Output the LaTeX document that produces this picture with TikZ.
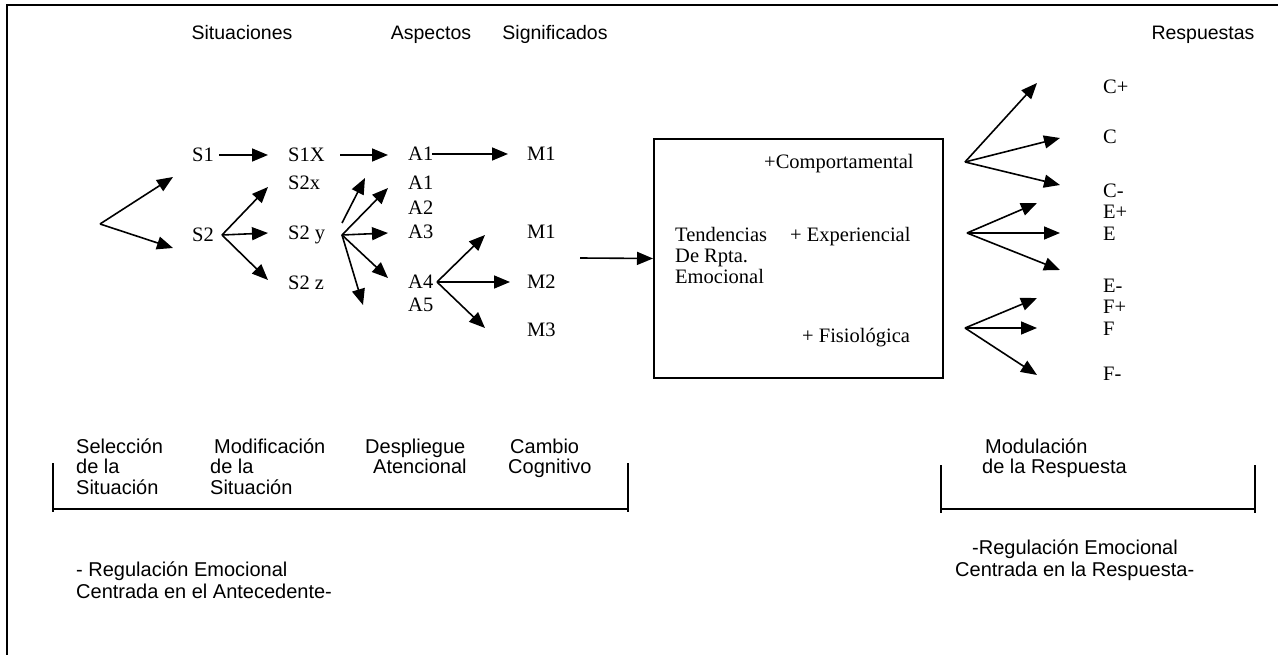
\documentclass[tikz,border=0pt]{standalone}
\usepackage{fontspec}
\setmainfont{Liberation Serif}
\setsansfont{Liberation Sans}
\usetikzlibrary{arrows.meta}
\newcommand{\mlines}[1]{\begin{tabular}[t]{@{}l@{}}#1\end{tabular}}
\begin{document}
\begin{tikzpicture}[x=1pt,y=-1pt,
  ser/.style={anchor=base west,inner sep=0pt,font=\fontsize{20.5pt}{21pt}\selectfont,yshift=-7pt},
  sans/.style={anchor=base west,inner sep=0pt,font=\sffamily\fontsize{20pt}{20.5pt}\selectfont,yshift=-7pt},
  head/.style={anchor=base,inner sep=0pt,font=\sffamily\fontsize{19.5pt}{20pt}\selectfont,yshift=-7pt},
  capt/.style={anchor=base west,inner sep=0pt,font=\sffamily\fontsize{20pt}{22pt}\selectfont,yshift=-7pt},
  arr/.style={-{Triangle[length=16pt,width=13pt]},line width=1.6pt},
  frm/.style={line width=2.2pt},
]
\useasboundingbox (0,0) rectangle (1278,655);
% outer frame
\coordinate (fbl) at (7,655);
\coordinate (ftl) at (7,5);
\coordinate (ftr) at (1278,5);
\draw[frm] (fbl) -- (ftl) -- (ftr);

% headers
\node[head] (hsit) at (242,33) {Situaciones};
\node[head] (hasp) at (431,33) {Aspectos};
\node[head] (hsig) at (555,33) {Significados};
\node[head] (hres) at (1203,33) {Respuestas};

% labels
\node[ser] (s1) at (192,155) {S1};
\node[ser] (s1x) at (288,155) {S1X};
\node[ser] (s2x) at (288,183) {S2x};
\node[ser] (s2) at (192,235) {S2};
\node[ser] (s2y) at (288,233) {S2 y};
\node[ser] (s2z) at (288,283) {S2 z};
\node[ser] (a1a) at (408,154) {A1};
\node[ser] (a1b) at (408,183) {A1};
\node[ser] (a2) at (408,208) {A2};
\node[ser] (a3) at (408,232) {A3};
\node[ser] (a4) at (408,282) {A4};
\node[ser] (a5) at (408,305) {A5};
\node[ser] (m1a) at (527,154) {M1};
\node[ser] (m1b) at (527,232) {M1};
\node[ser] (m2) at (527,282) {M2};
\node[ser] (m3) at (527,330) {M3};

% box
\node[draw,line width=2pt,minimum width=289pt,minimum height=239pt,anchor=north west,inner sep=0pt] (box) at (653,138) {};
\node[ser] (bcomp) at (764,162) {+Comportamental};
\node[ser] (bten) at (675,235) {\mlines{Tendencias\\De Rpta.\\Emocional}};
\node[ser] (bexp) at (790,235) {+ Experiencial};
\node[ser] (bfis) at (802,335) {+ Fisiológica};

% responses
\node[ser] (rcp) at (1103,87) {C+};
\node[ser] (rc) at (1103,137) {C};
\node[ser] (rcm) at (1103,191) {C-};
\node[ser] (rep) at (1103,212) {E+};
\node[ser] (re) at (1103,234) {E};
\node[ser] (rem) at (1103,286) {E-};
\node[ser] (rfp) at (1103,307) {F+};
\node[ser] (rf) at (1103,328) {F};
\node[ser] (rfm) at (1103,373) {F-};

% coordinates for connectors
\coordinate (f0) at (100,224);
\coordinate (t1) at (173,177);
\coordinate (t2) at (173,248);
\coordinate (c3) at (219,155);
\coordinate (t3) at (268,155);
\coordinate (c4) at (340,155);
\coordinate (t4) at (388,155);
\coordinate (fs2) at (222,235);
\coordinate (t5) at (268,187);
\coordinate (t6) at (268,233);
\coordinate (t7) at (268,280);
\coordinate (fsy) at (342,235);
\coordinate (fsyb) at (342,223);
\coordinate (t8) at (365,178);
\coordinate (t9) at (388,188);
\coordinate (t10) at (388,233);
\coordinate (t11) at (388,278);
\coordinate (t12) at (363,305);
\coordinate (c13) at (432,154);
\coordinate (t13) at (508,154);
\coordinate (fa4) at (437,282);
\coordinate (t14) at (485,235);
\coordinate (t15) at (510,282);
\coordinate (t16) at (485,328);
\coordinate (c17) at (580,258);
\coordinate (fc) at (965,162);
\coordinate (t18) at (1037,83);
\coordinate (t19) at (1060,138);
\coordinate (t20) at (1060,185);
\coordinate (fe) at (967,233);
\coordinate (t21) at (1037,203);
\coordinate (t22) at (1060,233);
\coordinate (t23) at (1060,270);
\coordinate (ff) at (965,328);
\coordinate (t24) at (1037,298);
\coordinate (t25) at (1037,328);
\coordinate (t26) at (1037,375);

\draw[arr] (f0) -- (t1);
\draw[arr] (f0) -- (t2);
\draw[arr] (c3) -- (t3);
\draw[arr] (c4) -- (t4);
\draw[arr] (fs2) -- (t5);
\draw[arr] (fs2) -- (t6);
\draw[arr] (fs2) -- (t7);
\draw[arr] (fsyb) -- (t8);
\draw[arr] (fsy) -- (t9);
\draw[arr] (fsy) -- (t10);
\draw[arr] (fsy) -- (t11);
\draw[arr] (fsy) -- (t12);
\draw[arr] (c13) -- (t13);
\draw[arr] (fa4) -- (t14);
\draw[arr] (fa4) -- (t15);
\draw[arr] (fa4) -- (t16);
\draw[arr] (c17) -- (box.west);
\draw[arr] (fc) -- (t18);
\draw[arr] (fc) -- (t19);
\draw[arr] (fc) -- (t20);
\draw[arr] (fe) -- (t21);
\draw[arr] (fe) -- (t22);
\draw[arr] (fe) -- (t23);
\draw[arr] (ff) -- (t24);
\draw[arr] (ff) -- (t25);
\draw[arr] (ff) -- (t26);

% bottom process labels
\node[sans] (psel) at (76,446) {\mlines{Selección\\de la\\Situación}};
\node[sans] (pmod) at (210,446) {\mlines{\hspace{4pt}Modificación\\de la\\Situación}};
\node[sans] (pdes) at (365,446) {\mlines{Despliegue\\\hspace{8pt}Atencional}};
\node[sans] (pcam) at (508,446) {\mlines{\hspace{2pt}Cambio\\Cognitivo}};
\node[sans] (pmodr) at (982,446) {\mlines{\hspace{3pt}Modulación\\de la Respuesta}};

% brackets
\coordinate (bl1) at (53,463);
\coordinate (bl2) at (53,512);
\coordinate (bl3) at (628,512);
\coordinate (bl4) at (628,463);
\draw[frm] (bl1) -- (bl2);
\draw[frm] (bl4) -- (bl3);
\coordinate (bl5) at (53,509);
\coordinate (bl6) at (628,509);
\draw[line width=1.6pt] (bl5) -- (bl6);
\coordinate (br1) at (941,465);
\coordinate (br2) at (941,513);
\coordinate (br3) at (1255,513);
\coordinate (br4) at (1255,465);
\draw[frm] (br1) -- (br2);
\draw[frm] (br4) -- (br3);
\coordinate (br5) at (941,509);
\coordinate (br6) at (1255,509);
\draw[line width=1.6pt] (br5) -- (br6);

% captions
\node[capt] (capl) at (76,569) {\mlines{- Regulación Emocional\\Centrada en el Antecedente-}};
\node[capt] (capr) at (955,547) {\mlines{\hspace{17pt}-Regulación Emocional\\Centrada en la Respuesta-}};
\end{tikzpicture}
\end{document}
